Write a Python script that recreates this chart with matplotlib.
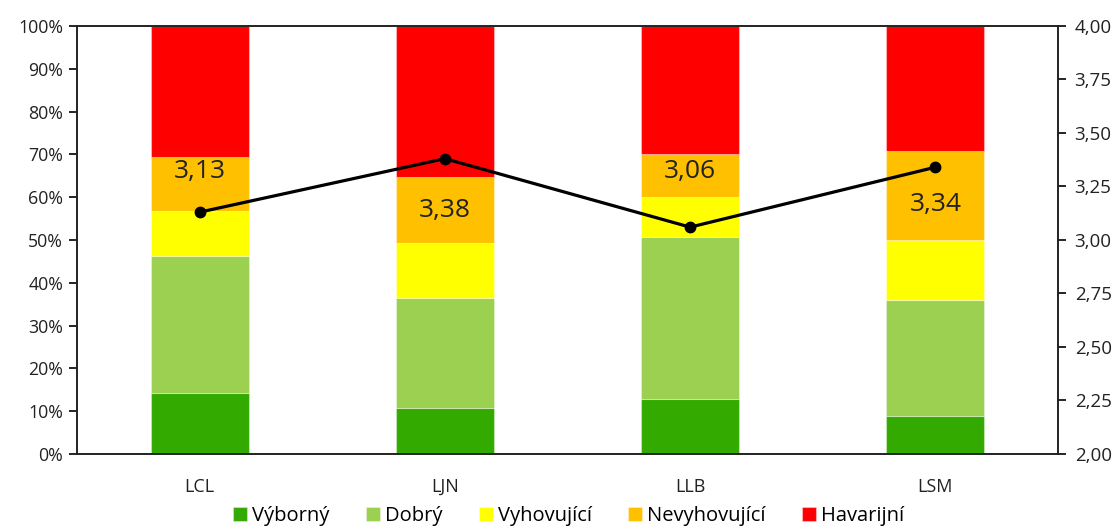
import matplotlib.pyplot as plt
import numpy as np

plt.rcParams['font.family'] = ['Open Sans', 'DejaVu Sans']

categories = ['LCL', 'LJN', 'LLB', 'LSM']
vyborny = [14.3, 10.8, 12.8, 8.9]
dobry = [32.0, 25.7, 37.9, 27.0]
vyhovujici = [10.5, 12.7, 9.3, 14.1]
nevyhovujici = [12.6, 15.6, 10.1, 20.7]
havarijni = [30.6, 35.2, 29.9, 29.3]
index = [3.13, 3.38, 3.06, 3.34]

series = [
    ('Výborný', vyborny, '#33AA00'),
    ('Dobrý', dobry, '#9BD050'),
    ('Vyhovující', vyhovujici, '#FFFF00'),
    ('Nevyhovující', nevyhovujici, '#FFC000'),
    ('Havarijní', havarijni, '#FF0000'),
]

fig = plt.figure(figsize=(11.18, 5.28), dpi=100)
ax = fig.add_axes([0.0689, 0.1402, 0.8774, 0.8106])

x = np.arange(len(categories)) + 0.5
bottom = np.zeros(len(categories))
for name, vals, col in series:
    ax.bar(x, vals, 0.4, bottom=bottom, color=col, label=name,
           edgecolor=(1, 1, 1, 0.35), linewidth=0.8, zorder=2)
    bottom += np.array(vals)

ax.set_xlim(0, len(categories))
ax.set_ylim(0, 100)
ax.set_yticks(np.arange(0, 101, 10))
ax.set_yticklabels([f'{v}%' for v in range(0, 101, 10)])
ax.set_xticks(x)
ax.set_xticklabels(categories)
ax.tick_params(axis='x', length=0, pad=17, labelsize=13, labelcolor='#222222')
ax.tick_params(axis='y', direction='out', length=6, width=1.2, labelsize=12.8,
               labelcolor='#222222', pad=4)
for s in ax.spines.values():
    s.set_linewidth(1.2)
    s.set_color('#222222')

ax2 = ax.twinx()
ax2.set_ylim(2, 4)
ax2.set_yticks(np.arange(2, 4.01, 0.25))
ax2.set_yticklabels([f'{v:.2f}'.replace('.', ',') for v in np.arange(2, 4.01, 0.25)])
ax2.tick_params(axis='y', direction='out', length=6, width=1.2, labelsize=13.5,
                labelcolor='#222222', pad=6)
for s in ax2.spines.values():
    s.set_linewidth(1.2)
    s.set_color('#222222')
ax2.plot(x, index, color='black', linewidth=2.3, marker='o', markersize=7.5, zorder=3)

# label placement above/below the point (points)
offsets = [29, -37, 40, -27]
for xi, v, off in zip(x, index, offsets):
    ax2.annotate(f'{v:.2f}'.replace('.', ','), (xi, v), xytext=(0, off),
                 textcoords='offset points', ha='center', va='center',
                 fontsize=19, color='#222222')

handles, labels = ax.get_legend_handles_labels()
fig.legend(handles, labels, loc='center', bbox_to_anchor=(0.5085, 0.022), ncol=5,
           frameon=False, fontsize=14.5, handlelength=0.7, handleheight=0.7,
           handletextpad=0.25, columnspacing=1.8)

fig.savefig('out.png', dpi=100)
